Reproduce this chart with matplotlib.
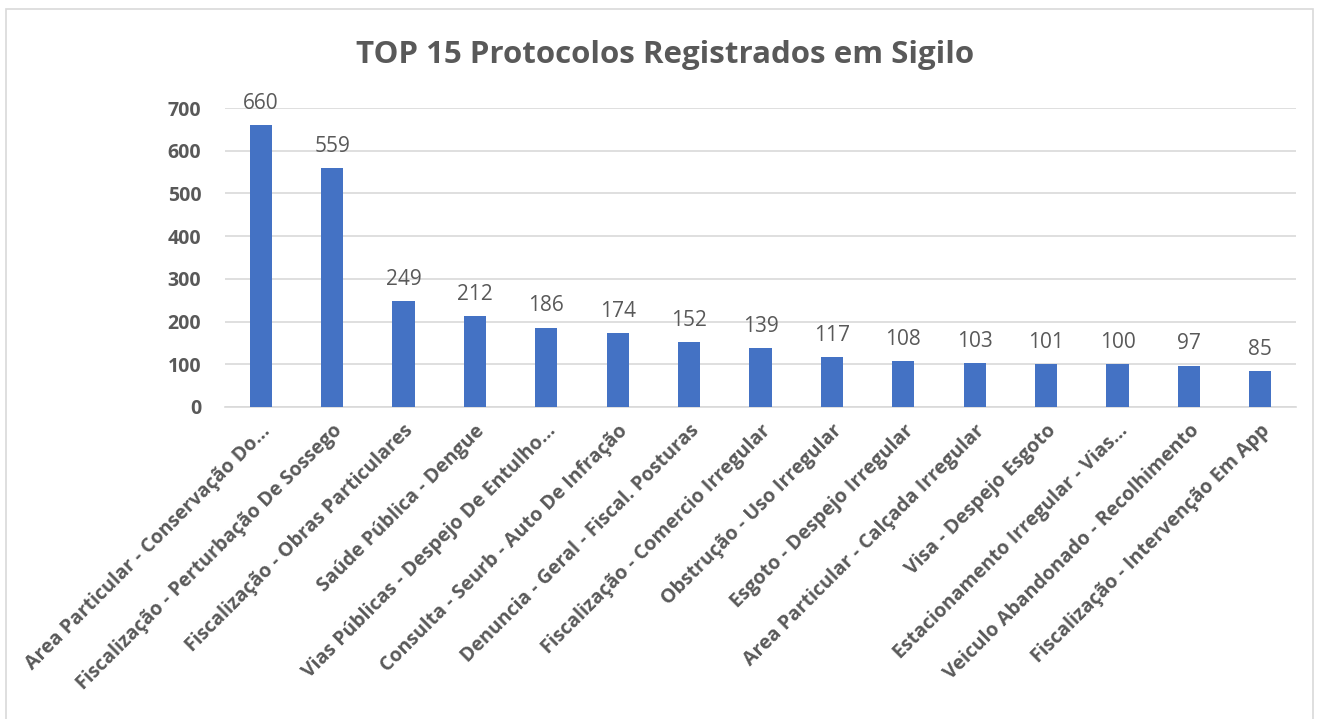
import matplotlib
matplotlib.use("Agg")
import matplotlib.pyplot as plt
from matplotlib.patches import Rectangle

categories = [
    "Area Particular - Conservação Do...",
    "Fiscalização - Perturbação De Sossego",
    "Fiscalização - Obras Particulares",
    "Saúde Pública - Dengue",
    "Vias Públicas - Despejo De Entulho...",
    "Consulta - Seurb - Auto De Infração",
    "Denuncia - Geral - Fiscal. Posturas",
    "Fiscalização - Comercio Irregular",
    "Obstrução - Uso Irregular",
    "Esgoto - Despejo Irregular",
    "Area Particular - Calçada Irregular",
    "Visa - Despejo Esgoto",
    "Estacionamento Irregular - Vias...",
    "Veiculo Abandonado - Recolhimento",
    "Fiscalização - Intervenção Em App",
]
values = [660, 559, 249, 212, 186, 174, 152, 139, 117, 108, 103, 101, 100, 97, 85]
yticks = [0, 100, 200, 300, 400, 500, 600, 700]
title = "TOP 15 Protocolos Registrados em Sigilo"

plt.rcParams['font.family'] = ['Open Sans', 'DejaVu Sans']
gray = '#595959'
grid = '#D9D9D9'
bar_color = '#4472C4'

fig = plt.figure(figsize=(13.23, 7.19), dpi=100)
fig.patches.append(Rectangle((6/1323, -0.01), (1313-6)/1323, 1 - 9/719 + 0.01,
                             transform=fig.transFigure, fill=False,
                             edgecolor=grid, linewidth=1.2))
ax = fig.add_axes([225/1323, 1 - 407/719, (1296-225)/1323, (407-108)/719])

x = list(range(len(categories)))
bars = ax.bar(x, values, width=0.31, color=bar_color, zorder=3)
ax.set_xlim(-0.5, len(categories) - 0.5)
ax.set_ylim(0, 700)
ax.set_yticks(yticks)
ax.set_yticklabels([str(t) for t in yticks], fontsize=14, fontweight='bold', color=gray)
ax.yaxis.grid(True, color=grid, linewidth=1.2, zorder=0)
ax.set_axisbelow(True)
for s in ['top', 'right', 'left']:
    ax.spines[s].set_visible(False)
ax.spines['bottom'].set_color(grid)
ax.spines['bottom'].set_linewidth(1.2)
ax.tick_params(axis='both', length=0)
ax.tick_params(axis='y', pad=17)

ax.set_xticks(x)
ax.set_xticklabels(categories, rotation=45, ha='right', rotation_mode='anchor',
                   fontsize=14, fontweight='bold', color=gray)
ax.tick_params(axis='x', pad=10)

for xi, v in zip(x, values):
    ax.annotate(str(v), (xi, v), xytext=(0, 8), textcoords='offset points',
                ha='center', va='bottom', fontsize=15, color=gray)

fig.text(665/1323, 1 - 55/719, title, ha='center', va='center',
         fontsize=22.5, fontweight='bold', color=gray)

fig.savefig('out.png', dpi=100)
